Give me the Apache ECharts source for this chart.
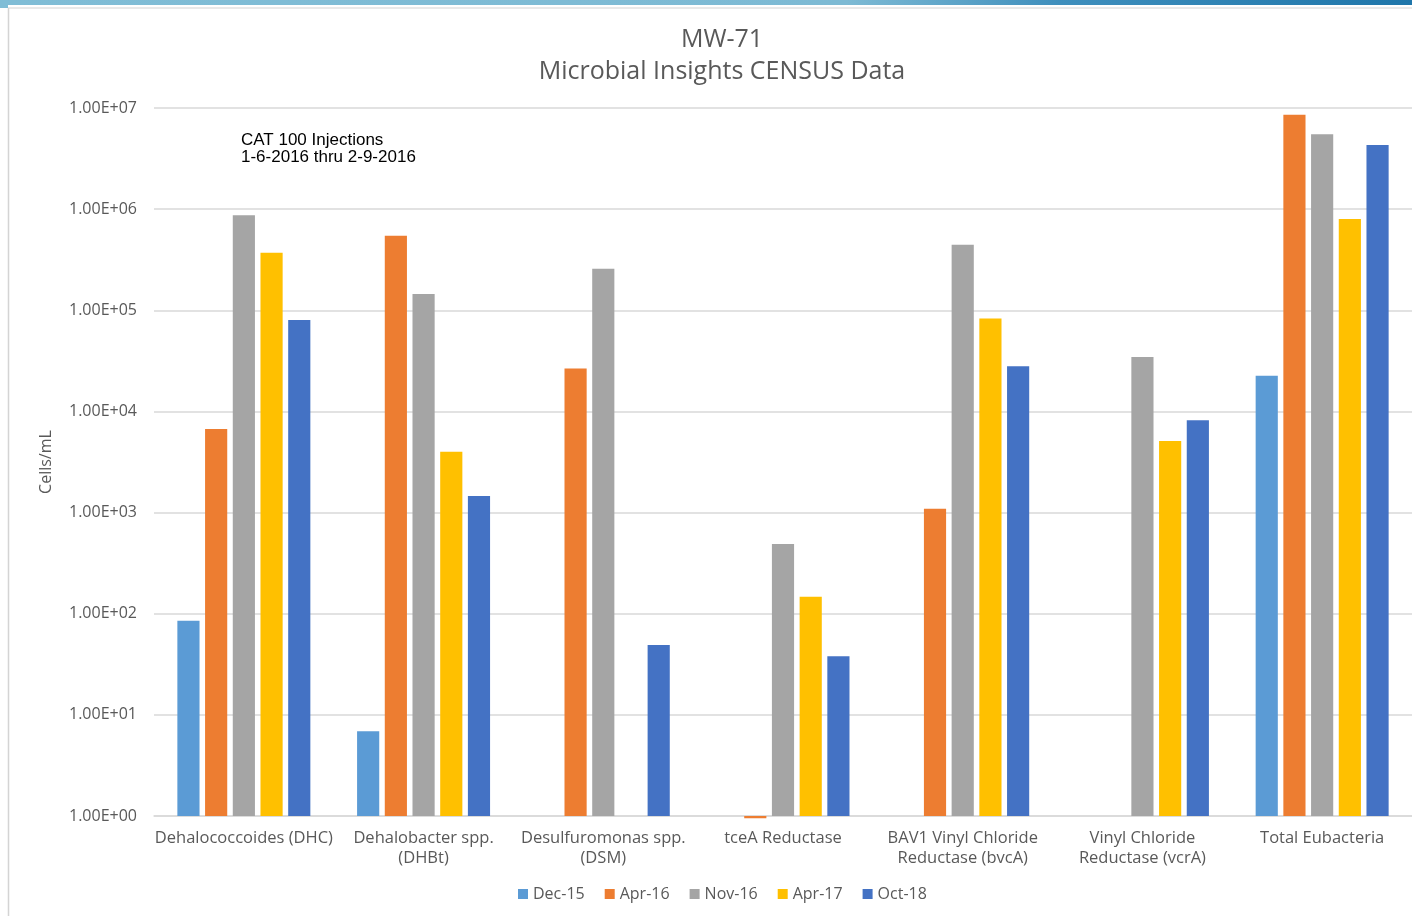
<!DOCTYPE html>
<html>
<head>
<meta charset="utf-8">
<title>MW-71 Microbial Insights CENSUS Data</title>
<script src="https://cdn.jsdelivr.net/npm/echarts@6/dist/echarts.min.js"></script>
<style>
  html, body { margin: 0; padding: 0; background: #fff; }
  #chart { width: 1412px; height: 916px; }
</style>
</head>
<body>
<div id="chart"></div>
<script>
// categories on the x axis
const categories = [
  'Dehalococcoides (DHC)',
  'Dehalobacter spp.\n(DHBt)',
  'Desulfuromonas spp.\n(DSM)',
  'tceA Reductase',
  'BAV1 Vinyl Chloride\nReductase (bvcA)',
  'Vinyl Chloride\nReductase (vcrA)',
  'Total Eubacteria'
];

// sampling events, one series each (Cells/mL)
const dec15 = [85, 6.9, null, null, null, null, 22500];
const apr16 = [6700, 545000, 26500, 0.95, 1090, null, 8600000];
const nov16 = [870000, 145000, 257000, 490, 445000, 34500, 5500000];
const apr17 = [370000, 4000, null, 147, 83000, 5100, 800000];
const oct18 = [80000, 1460, 49, 38, 28000, 8200, 4300000];

const seriesNames = ['Dec-15', 'Apr-16', 'Nov-16', 'Apr-17', 'Oct-18'];
const seriesColors = ['#5b9bd5', '#ed7d31', '#a5a5a5', '#ffc000', '#4472c4'];
const seriesData = [dec15, apr16, nov16, apr17, oct18];

const textColor = '#595959';
const gridColor = '#d9d9d9';

// 1.00E+07 style labels
function sciLabel(v) {
  const e = Math.round(Math.log10(v));
  const m = v / Math.pow(10, e);
  return m.toFixed(2) + 'E+' + (e < 10 ? '0' : '') + e;
}

const chart = echarts.init(document.getElementById('chart'));

const option = {
  animation: false,
  backgroundColor: '#fff',
  title: {
    text: 'MW-71\nMicrobial Insights CENSUS Data',
    left: 717,
    top: 19,
    textAlign: 'center',
    textStyle: {
      color: textColor,
      fontFamily: 'Open Sans',
      fontSize: 25,
      fontWeight: 'normal',
      lineHeight: 32
    }
  },
  legend: {
    bottom: 9,
    left: 513,
    itemWidth: 10,
    itemHeight: 10,
    itemGap: 20,
    icon: 'rect',
    textStyle: { color: textColor, fontFamily: 'Open Sans', fontSize: 16, padding: [0, 0, 0, 0] },
    data: seriesNames
  },
  grid: {
    left: 154,
    right: 0,
    top: 108,
    bottom: 100,
    containLabel: false
  },
  xAxis: {
    type: 'category',
    data: categories,
    axisLine: { show: true, lineStyle: { color: gridColor, width: 1.5 } },
    axisTick: { show: false },
    axisLabel: {
      color: textColor,
      fontFamily: 'Open Sans',
      fontSize: 16.5,
      lineHeight: 20,
      margin: 12,
      interval: 0
    }
  },
  yAxis: {
    type: 'log',
    logBase: 10,
    min: 1,
    max: 10000000,
    name: 'Cells/mL',
    nameLocation: 'middle',
    nameGap: 100,
    nameRotate: 90,
    nameTextStyle: { color: textColor, fontFamily: 'Open Sans', fontSize: 16 },
    axisLine: { show: false },
    axisTick: { show: false },
    splitLine: { lineStyle: { color: gridColor, width: 1.5 } },
    axisLabel: {
      color: textColor,
      fontFamily: 'Open Sans',
      fontSize: 16,
      margin: 17,
      formatter: sciLabel
    }
  },
  series: seriesNames.map((name, i) => ({
    name: name,
    type: 'bar',
    data: seriesData[i],
    barGap: '25%',
    barCategoryGap: '26%',
    clip: false,
    itemStyle: { color: seriesColors[i] }
  })),
  graphic: [
    {
      type: 'rect',
      shape: { x: 0, y: 0, width: 1412, height: 5 },
      style: {
        fill: new echarts.graphic.LinearGradient(0, 0, 1, 0, [
          { offset: 0, color: '#80bdd6' },
          { offset: 0.6, color: '#7dbad4' },
          { offset: 0.75, color: '#3f8fbd' },
          { offset: 1, color: '#1f76aa' }
        ])
      },
      silent: true
    },
    {
      type: 'rect',
      shape: { x: 0, y: 5, width: 8, height: 3 },
      style: { fill: '#80bdd6' },
      silent: true
    },
    {
      type: 'line',
      shape: { x1: 8, y1: 8, x2: 1412, y2: 8 },
      style: { stroke: '#e2e2e2', lineWidth: 1.5 },
      silent: true
    },
    {
      type: 'line',
      shape: { x1: 8.5, y1: 8, x2: 8.5, y2: 916 },
      style: { stroke: '#d4d4d4', lineWidth: 1.5 },
      silent: true
    },
    {
      type: 'text',
      left: 241,
      top: 132,
      style: {
        text: 'CAT 100 Injections\n1-6-2016 thru 2-9-2016',
        fill: '#000',
        font: '17px "Liberation Sans", Arial, sans-serif',
        lineHeight: 17
      },
      silent: true
    }
  ]
};

chart.setOption(option);
window.onresize = () => {
  chart.resize();
};
</script>
</body>
</html>
